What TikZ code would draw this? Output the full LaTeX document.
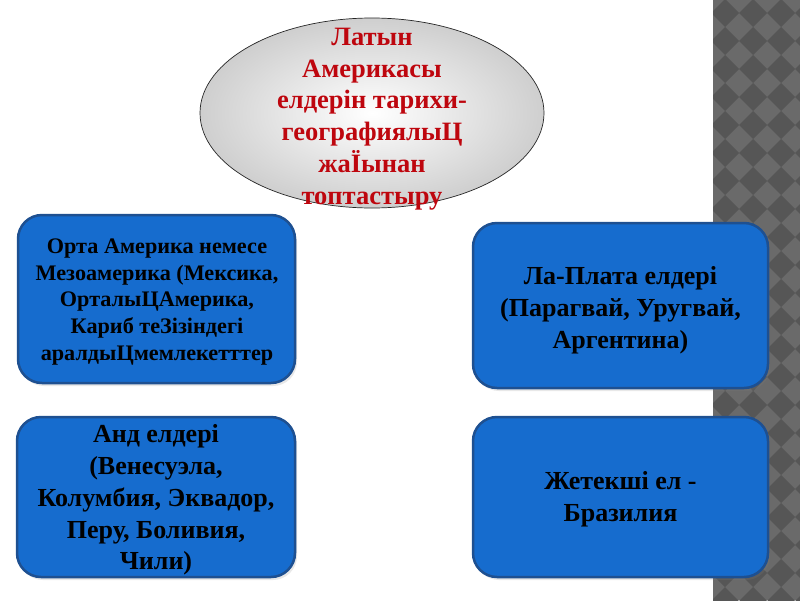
\documentclass[tikz,border=0pt]{standalone}
\usepackage{fontspec}
\setmainfont{Liberation Serif}
\usetikzlibrary{shapes.geometric,shadows}
\definecolor{titlered}{RGB}{190,6,14}
\definecolor{boxfill}{RGB}{22,108,206}
\definecolor{boxedge}{RGB}{30,80,145}
\definecolor{stripdark}{RGB}{86,86,86}
\definecolor{striplight}{RGB}{106,106,106}
\tikzset{
  titleoval/.style={ellipse, draw=black!85, line width=0.7pt, inner color=white, outer color=black!19,
    minimum width=344pt, minimum height=190pt, inner sep=0pt},
  titletext/.style={text=titlered, align=center, font=\fontsize{26.5}{31.8}\selectfont\bfseries},
  bluebox/.style={rectangle, rounded corners=24pt, draw=boxedge, line width=2.5pt, fill=boxfill,
    drop shadow={opacity=0.18, shadow xshift=2pt, shadow yshift=-3pt}, inner sep=0pt, align=center},
  bigtext/.style={font=\fontsize{26}{31.8}\selectfont\bfseries, text=black},
  smalltext/.style={font=\fontsize{22.2}{26.7}\selectfont\bfseries, text=black},
}
\begin{document}
\begin{tikzpicture}[x=1pt,y=-1pt]
\useasboundingbox (0,0) rectangle (800,600);
\fill[white] (0,0) rectangle (800,600);
% patterned strip
\begin{scope}
\clip (713,0) rectangle (800,600);
\fill[striplight] (713,0) rectangle (800,600);
\foreach \i in {-1,...,3} {
  \foreach \j in {-1,...,22} {
    \fill[stripdark] ({725+28*\i},{13+28*\j-14}) -- ++(14,14) -- ++(-14,14) -- ++(-14,-14) -- cycle;
  }
}
\end{scope}
% title
\node[titleoval] (title) at (372,113) {};
\node[titletext] (titletxt) at (372,119) {Латын\\Америкасы\\елдерін тарихи-\\географиялыЦ\\жаЇынан\\топтастыру};
% boxes
\node[bluebox, minimum width=277pt, minimum height=168pt] (b1) at (156.5,299) {};
\node[smalltext, align=center] (t1) at (157,302) {Орта Америка немесе\\Мезоамерика (Мексика,\\ОрталыЦАмерика,\\Кариб теЗізіндегі\\аралдыЦмемлекетттер};
\node[bluebox, minimum width=295pt, minimum height=165pt] (b2) at (620.5,305.5) {};
\node[bigtext, align=center] (t2) at (620.5,310) {Ла-Плата елдері\\(Парагвай, Уругвай,\\Аргентина)};
\node[bluebox, minimum width=278pt, minimum height=160pt] (b3) at (156,497) {};
\node[bigtext, align=center] (t3) at (156,500) {Анд елдері\\(Венесуэла,\\Колумбия, Эквадор,\\Перу, Боливия,\\Чили)};
\node[bluebox, minimum width=295pt, minimum height=160pt] (b4) at (620.5,497) {};
\node[bigtext, align=center] (t4) at (620.5,499) {Жетекші ел -\\Бразилия};
\end{tikzpicture}
\end{document}
